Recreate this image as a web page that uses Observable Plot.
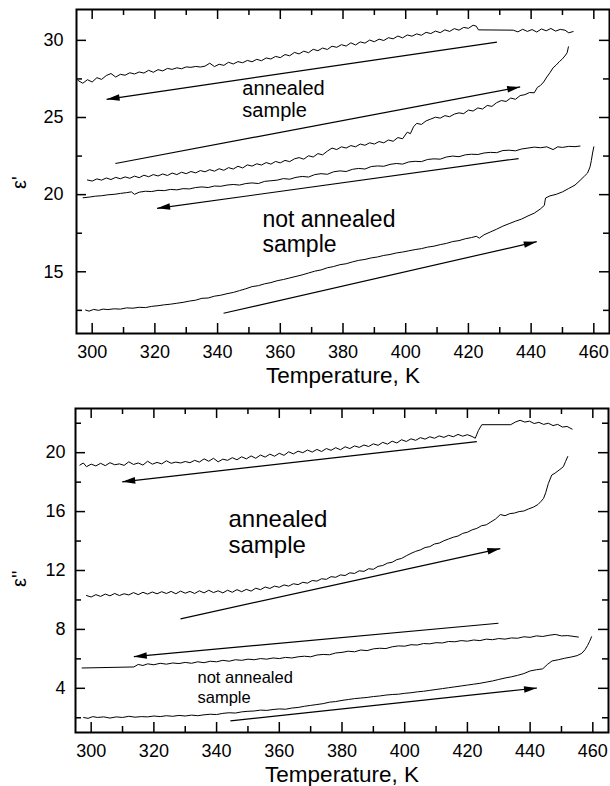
<!DOCTYPE html>
<html><head><meta charset="utf-8">
<script src="https://cdn.jsdelivr.net/npm/d3@7"></script>
<script src="https://cdn.jsdelivr.net/npm/@observablehq/plot@0.6"></script>
<style>body{margin:0;background:#fff}#chart svg{display:block}</style>
</head><body><div id="chart"></div>
<script>
// ---------- tick values ----------
const xTicksMajor = [300, 320, 340, 360, 380, 400, 420, 440, 460];
const xTicksMinor = [310, 330, 350, 370, 390, 410, 430, 450];
const epsPrimeMajor = [15, 20, 25, 30];
const epsPrimeMinor = [12.5, 17.5, 22.5, 27.5];
const epsDoubleMajor = [4, 8, 12, 16, 20];
const epsDoubleMinor = [2, 6, 10, 14, 18, 22];

// ---------- ε' panel: curves [T (K), ε'] ----------
const epsPrimeAnnealedCooling = [[295.5,27.40],[297,27.22],[298.5,27.45],[300,27.30],[301.5,27.58],[303,27.47],[304.5,27.72],[306,27.85],[307.5,27.62],[309,27.80],[310.5,27.74],[312,27.90],[313.5,27.82],[315,27.95],[316.5,27.88],[318,28.06],[319.5,27.93],[321,28.10],[322.5,28.02],[324,28.18],[325.5,28.12],[327,28.22],[328.5,28.16],[330,28.28],[331.5,28.25],[333,28.31],[334.5,28.27],[336,28.33],[337.5,28.52],[339,28.30],[340.5,28.45],[342,28.38],[343.5,28.58],[345,28.47],[346.5,28.62],[348,28.55],[349.5,28.70],[351,28.61],[352.5,28.77],[354,28.68],[355.5,28.86],[357,28.79],[358.5,28.96],[360,28.88],[361.5,29.08],[363,29.00],[364.5,29.22],[366,29.12],[367.5,29.30],[369,29.20],[370.5,29.42],[372,29.33],[373.5,29.50],[375,29.41],[376.5,29.62],[378,29.55],[379.5,29.72],[381,29.63],[382.5,29.84],[384,29.70],[385.5,29.90],[387,29.82],[388.5,30.02],[390,29.91],[391.5,30.08],[393,29.99],[394.5,30.17],[396,30.10],[397.5,30.28],[399,30.16],[400.5,30.35],[402,30.27],[403.5,30.42],[405,30.33],[406.5,30.52],[408,30.44],[409.5,30.60],[411,30.50],[412.5,30.68],[414,30.58],[415.5,30.76],[417,30.66],[418.5,30.84],[420,30.78],[421.5,30.98],[422.5,30.92],[423.2,30.68],[434.3,30.66],[435.8,30.55],[437.3,30.72],[438.8,30.58],[440.3,30.70],[441.8,30.54],[443.3,30.74],[444.8,30.62],[446.3,30.77],[447.8,30.60],[449.3,30.71],[450.8,30.66],[452,30.49],[453.4,30.57]];
const epsPrimeAnnealedHeating = [[298.5,20.95],[300,20.88],[301.5,21.02],[303,20.94],[304.5,21.08],[306,20.98],[307.5,21.12],[309,21.03],[310.5,21.15],[312,21.06],[313.5,21.20],[315,21.10],[316.5,21.26],[318,21.16],[319.5,21.30],[321,21.21],[322.5,21.34],[324,21.24],[325.5,21.40],[327,21.30],[328.5,21.45],[330,21.36],[331.5,21.50],[333,21.41],[334.5,21.56],[336,21.48],[337.5,21.62],[339,21.52],[340.5,21.68],[342,21.58],[343.5,21.75],[345,21.66],[346.5,21.84],[348,21.73],[349.5,21.93],[351,21.85],[352.5,22.00],[354,21.92],[355.5,22.08],[357,21.98],[358.5,22.15],[360,22.06],[361.5,22.22],[363,22.14],[364.5,22.32],[366,22.40],[367.5,22.30],[369,22.52],[370.5,22.44],[372,22.66],[373.5,22.58],[375,22.82],[376.5,23.02],[378,22.92],[379.5,23.10],[381,23.02],[382.5,23.18],[384,23.10],[385.5,23.28],[387,23.20],[388.5,23.36],[390,23.28],[391.5,23.44],[393,23.36],[394.5,23.54],[396,23.46],[397.5,23.70],[399,23.62],[400.5,24.05],[401.5,23.95],[402.5,24.40],[403.5,24.62],[405,24.55],[406.5,24.78],[408,24.90],[409.5,25.02],[411,24.96],[412.5,25.12],[414,25.05],[415.5,25.22],[417,25.30],[418.5,25.25],[420,25.48],[421.5,25.42],[423,25.62],[424.5,25.55],[426,25.78],[427.5,25.72],[429,25.96],[430.5,26.10],[432,26.04],[433.5,26.26],[435,26.18],[436.5,26.42],[438,26.48],[439.5,26.62],[441,26.60],[442,26.95],[443,27.08],[444,27.30],[445,27.62],[446,27.90],[447,28.22],[448,28.40],[449,28.62],[450,28.80],[451,29.05],[451.5,29.20],[451.9,29.58]];
const epsPrimeNotAnnealedCooling = [[297.1,19.80],[299,19.84],[301,19.90],[303,19.93],[305,19.99],[307,20.02],[309,20.08],[311,20.13],[312.5,20.18],[313.5,20.02],[315,20.16],[317,20.22],[319,20.20],[321,20.28],[323,20.26],[325,20.34],[327,20.31],[329,20.39],[331,20.37],[333,20.46],[335,20.50],[337,20.46],[339,20.56],[341,20.54],[343,20.62],[345,20.66],[347,20.62],[349,20.72],[351,20.76],[353,20.72],[355,20.86],[357,20.90],[359,20.94],[361,21.04],[363,21.00],[365,21.12],[367,21.18],[369,21.14],[371,21.30],[373,21.36],[375,21.32],[377,21.48],[379,21.54],[381,21.50],[383,21.64],[385,21.70],[387,21.66],[389,21.82],[391,21.86],[393,21.84],[395,21.96],[397,22.02],[399,21.98],[401,22.12],[403,22.16],[405,22.14],[407,22.28],[409,22.32],[411,22.30],[413,22.44],[415,22.50],[417,22.46],[419,22.58],[421,22.62],[423,22.60],[425,22.70],[427,22.74],[429,22.72],[431,22.86],[433,22.88],[435,22.84],[437,22.96],[439,23.02],[441,23.08],[443,23.04],[445,23.10],[447,22.92],[448.5,23.10],[450,23.06],[452,23.13],[454,23.11],[455.6,23.15]];
const epsPrimeNotAnnealedHeating = [[297.9,12.52],[299,12.45],[300.5,12.56],[302,12.50],[303.5,12.58],[305,12.55],[307,12.60],[309,12.58],[311,12.66],[313,12.64],[315,12.70],[317,12.68],[319,12.76],[321,12.80],[323,12.86],[325,12.90],[327,12.96],[329,13.02],[331,13.10],[333,13.16],[335,13.28],[337,13.30],[339,13.42],[341,13.48],[343,13.58],[345,13.66],[347,13.78],[349,13.90],[351,14.04],[353,14.10],[355,14.22],[357,14.30],[359,14.42],[361,14.50],[363,14.60],[365,14.70],[367,14.80],[369,14.92],[371,15.04],[373,15.12],[375,15.26],[377,15.34],[379,15.46],[381,15.52],[383,15.64],[385,15.74],[387,15.80],[389,15.90],[391,15.96],[393,16.06],[395,16.12],[397,16.22],[399,16.28],[401,16.36],[403,16.44],[405,16.50],[407,16.60],[409,16.66],[411,16.76],[413,16.84],[415,16.96],[417,17.02],[419,17.14],[421,17.22],[422.5,17.30],[423.5,17.18],[425,17.40],[427,17.58],[429,17.76],[431,17.96],[433,18.12],[435,18.28],[437,18.42],[439,18.62],[441,18.80],[443,19.08],[444.2,19.30],[444.6,19.78],[446,19.92],[448,20.02],[450,20.18],[452,20.40],[454,20.62],[455.6,20.92],[457,21.20],[458,21.40],[458.8,21.80],[459.2,22.20],[459.6,22.70],[460,23.10]];

// ---------- ε'' panel: curves [T (K), ε''] ----------
const epsDoubleAnnealedCooling = [[296.4,19.16],[297.5,19.30],[298.5,19.05],[300,19.22],[301.5,19.10],[303,19.28],[304.5,19.12],[306,19.32],[307.5,19.18],[309,19.24],[310.5,19.14],[312,19.38],[313.5,19.20],[315,19.30],[316.5,19.16],[318,19.42],[319.5,19.22],[321,19.34],[322.5,19.24],[324,19.45],[325.5,19.28],[327,19.36],[328.5,19.30],[330,19.40],[331.5,19.32],[333,19.48],[334.5,19.36],[336,19.58],[337.5,19.42],[339,19.62],[340.5,19.38],[342,19.56],[343.5,19.48],[345,19.66],[346.5,19.52],[348,19.72],[349.5,19.58],[351,19.78],[352.5,19.62],[354,19.84],[355.5,19.70],[357,19.90],[358.5,19.76],[360,19.96],[361.5,19.82],[363,20.06],[364.5,19.92],[366,20.10],[367.5,20.00],[369,20.18],[370.5,20.04],[372,20.22],[373.5,20.08],[375,20.28],[376.5,20.16],[378,20.34],[379.5,20.20],[381,20.40],[382.5,20.28],[384,20.46],[385.5,20.36],[387,20.52],[388.5,20.42],[390,20.60],[391.5,20.50],[393,20.70],[394.5,20.58],[396,20.78],[397.5,20.66],[399,20.88],[400.5,20.76],[402,20.94],[403.5,20.84],[405,21.02],[406.5,20.92],[408,21.08],[409.5,20.98],[411,21.14],[412.5,21.04],[414,21.18],[415.5,21.08],[417,21.24],[418.5,21.12],[420,21.22],[421.5,21.10],[422.5,20.98],[423.5,21.50],[424.6,21.90],[433.8,21.90],[435.3,22.08],[436.8,22.20],[438.3,22.08],[439.8,22.14],[441.3,21.98],[442.8,22.06],[444.3,21.92],[445.8,22.00],[447.3,21.84],[448.8,21.92],[450.3,21.74],[451.8,21.78],[453.4,21.60]];
const epsDoubleAnnealedHeating = [[298.5,10.30],[300,10.20],[301.5,10.36],[303,10.24],[304.5,10.40],[306,10.28],[307.5,10.44],[309,10.30],[310.5,10.42],[312,10.34],[313.5,10.50],[315,10.36],[316.5,10.52],[318,10.40],[319.5,10.54],[321,10.42],[322.5,10.56],[324,10.44],[325.5,10.58],[327,10.42],[328.5,10.60],[330,10.46],[331.5,10.58],[333,10.44],[334.5,10.62],[336,10.48],[337.5,10.66],[339,10.50],[340.5,10.62],[342,10.48],[343.5,10.66],[345,10.52],[346.5,10.70],[348,10.56],[349.5,10.72],[351,10.60],[352.5,10.80],[354,10.70],[355.5,10.88],[357,10.78],[358.5,10.94],[360,10.86],[361.5,11.02],[363,10.94],[364.5,11.10],[366,11.04],[367.5,11.20],[369,11.14],[370.5,11.32],[372,11.28],[373.5,11.44],[375,11.40],[376.5,11.58],[378,11.54],[379.5,11.70],[381,11.66],[382.5,11.84],[384,11.80],[385.5,11.98],[387,11.94],[388.5,12.12],[390,12.08],[391.5,12.28],[393,12.34],[394.5,12.50],[396,12.56],[397.5,12.74],[399,12.82],[400.5,13.00],[402,13.16],[403.5,13.30],[405,13.40],[406.5,13.56],[408,13.62],[409.5,13.80],[411,13.86],[412.5,14.02],[414,14.14],[415.5,14.26],[417,14.34],[418.5,14.52],[420,14.60],[421.5,14.76],[423,14.86],[424.5,15.04],[426,15.10],[427.5,15.30],[429,15.50],[430.5,15.80],[432,15.72],[433.5,15.86],[435,15.90],[436.5,16.00],[438,16.04],[439.5,16.18],[441,16.30],[442.5,16.48],[443.5,16.70],[444.3,16.90],[445,17.30],[445.8,17.90],[446.9,18.48],[448,18.62],[449.5,18.86],[450.6,19.05],[451.3,19.40],[452,19.74]];
const epsDoubleNotAnnealedCooling = [[297.1,5.38],[313.6,5.45],[315,5.62],[316.5,5.55],[318,5.66],[320,5.60],[322,5.70],[324,5.64],[326,5.72],[328,5.68],[330,5.76],[332,5.70],[334,5.80],[336,5.74],[338,5.84],[340,5.80],[342,5.90],[344,5.84],[346,5.94],[348,5.90],[350,5.98],[352,5.94],[354,6.02],[356,5.98],[358,6.06],[360,6.02],[362,6.10],[364,6.06],[366,6.14],[368,6.18],[370,6.14],[372,6.26],[374,6.30],[376,6.28],[378,6.40],[380,6.44],[382,6.52],[384,6.48],[386,6.60],[388,6.56],[390,6.68],[392,6.72],[394,6.70],[396,6.82],[398,6.88],[400,6.86],[402,6.96],[404,6.94],[406,7.04],[408,7.02],[410,7.10],[412,7.08],[414,7.18],[416,7.16],[418,7.24],[420,7.20],[422,7.28],[424,7.24],[426,7.34],[428,7.30],[430,7.38],[432,7.34],[434,7.42],[436,7.40],[438,7.50],[440,7.46],[442,7.56],[444,7.52],[446,7.60],[448,7.66],[450,7.56],[452,7.58],[454,7.52],[455.4,7.48]];
const epsDoubleNotAnnealedHeating = [[297.6,2.02],[299,1.96],[300.5,2.08],[302,2.02],[304,2.06],[306,1.98],[308,2.06],[310,2.02],[312,2.10],[314,2.04],[316,2.08],[318,2.06],[320,2.12],[322,2.08],[324,2.14],[326,2.10],[328,2.16],[330,2.12],[332,2.18],[334,2.14],[336,2.20],[338,2.24],[340,2.22],[342,2.30],[344,2.34],[346,2.32],[348,2.40],[350,2.44],[352,2.46],[354,2.52],[356,2.50],[358,2.56],[360,2.60],[362,2.58],[364,2.66],[366,2.70],[368,2.78],[370,2.84],[372,2.90],[374,2.96],[376,3.06],[378,3.10],[380,3.18],[382,3.24],[384,3.30],[386,3.34],[388,3.38],[390,3.44],[392,3.48],[394,3.54],[396,3.58],[398,3.60],[400,3.66],[402,3.70],[404,3.76],[406,3.80],[408,3.86],[410,3.92],[412,3.98],[414,4.04],[416,4.10],[418,4.16],[420,4.22],[422,4.28],[424,4.34],[426,4.42],[428,4.50],[430,4.60],[432,4.70],[434,4.78],[436,4.88],[438,5.00],[440,5.18],[442,5.26],[444,5.32],[445.5,5.62],[447,5.86],[449,5.94],[451,6.04],[453,6.12],[455,6.22],[456.5,6.38],[457.5,6.62],[458.3,6.90],[459,7.20],[459.6,7.50]];

// ---------- arrows (data units; x2,y2 = arrow tip) ----------
const epsPrimeArrows = [
  {x1: 429.1, y1: 29.89, x2: 304.6, y2: 26.18},
  {x1: 307.4, y1: 22.02, x2: 436.5, y2: 26.98},
  {x1: 436.0, y1: 22.34, x2: 320.7, y2: 19.11},
  {x1: 341.9, y1: 12.31, x2: 441.8, y2: 16.95}
];
const epsDoubleArrows = [
  {x1: 423.0, y1: 20.75, x2: 309.9, y2: 18.02},
  {x1: 328.5, y1: 8.72, x2: 430.5, y2: 13.49},
  {x1: 429.9, y1: 8.42, x2: 313.6, y2: 6.15},
  {x1: 344.4, y1: 1.79, x2: 442.2, y2: 4.02}
];

// ---------- annotation labels (data-unit anchor of last line's baseline) ----------
const epsPrimeLabels = [
  {text: "annealed\nsample", x: 347.9, y: 25.02, size: 20, lh: 1.1},
  {text: "not annealed\nsample", x: 354.3, y: 16.28, size: 23, lh: 1.09}
];
const epsDoubleLabels = [
  {text: "annealed\nsample", x: 343.8, y: 13.19, size: 24, lh: 1.08},
  {text: "not annealed\nsample", x: 333.9, y: 2.97, size: 16.5, lh: 1.27}
];

const xTitle = "Temperature, K";

const arrowHead = {
  draw(ctx) { ctx.moveTo(0, 0); ctx.lineTo(3.3, 13); ctx.lineTo(-3.3, 13); ctx.closePath(); }
};

function panel(cfg) {
  const width = 610;
  const {height, marginTop, marginBottom, marginLeft, marginRight, xDomain, yDomain} = cfg;
  const W = width - marginLeft - marginRight;
  const H = height - marginTop - marginBottom;
  const sx = d3.scaleLinear(xDomain, [marginLeft, width - marginRight]);
  const sy = d3.scaleLinear(yDomain, [height - marginBottom, marginTop]);
  const heads = cfg.arrows.map(a => {
    const dx = sx(a.x2) - sx(a.x1), dy = sy(a.y2) - sy(a.y1);
    return {...a, angle: Math.atan2(dx, -dy) * 180 / Math.PI};
  });
  const rows = cfg.curves.flatMap((pts, i) => pts.map(([T, v]) => ({T, v, id: i})));
  const tk = {stroke: "black", strokeWidth: 1.5};
  const id = d => d;
  return Plot.plot({
    width, height, marginTop, marginBottom, marginLeft, marginRight,
    x: {domain: xDomain},
    y: {domain: yDomain},
    style: {fontFamily: "'Liberation Sans', Arial, sans-serif", fontSize: "18px", color: "black", background: "white"},
    marks: [
      Plot.line(rows, {x: "T", y: "v", z: "id", stroke: "black", strokeWidth: 1}),
      Plot.link(cfg.arrows, {x1: "x1", y1: "y1", x2: "x2", y2: "y2", stroke: "black", strokeWidth: 1.2}),
      Plot.dot(heads, {x: "x2", y: "y2", symbol: arrowHead, rotate: "angle", fill: "black", stroke: "none", r: 5}),
      ...cfg.labels.map(l => Plot.text([l], {x: "x", y: "y", text: "text", textAnchor: "start", lineAnchor: "bottom", fontSize: l.size, lineHeight: l.lh, fill: "black"})),
      Plot.tickX(xTicksMajor, {x: id, insetTop: H - 10, ...tk}),
      Plot.tickX(xTicksMajor, {x: id, insetBottom: H - 10, ...tk}),
      Plot.tickX(xTicksMinor, {x: id, insetTop: H - 6, ...tk}),
      Plot.tickX(xTicksMinor, {x: id, insetBottom: H - 6, ...tk}),
      Plot.tickY(cfg.yMajor, {y: id, insetRight: W - 10, ...tk}),
      Plot.tickY(cfg.yMajor, {y: id, insetLeft: W - 10, ...tk}),
      Plot.tickY(cfg.yMinor, {y: id, insetRight: W - 6, ...tk}),
      Plot.tickY(cfg.yMinor, {y: id, insetLeft: W - 6, ...tk}),
      Plot.axisX({ticks: xTicksMajor, tickSize: 0, tickPadding: 12, fontSize: 18, label: null}),
      Plot.axisY({ticks: cfg.yMajor, tickSize: 0, tickPadding: cfg.yPad, fontSize: 18, label: null}),
      Plot.frame({stroke: "black", strokeWidth: 2}),
      Plot.text([xTitle], {frameAnchor: "bottom", text: id, dy: 49, fontSize: 22.5, lineAnchor: "bottom", textAnchor: "middle"}),
      Plot.text([cfg.yTitle], {frameAnchor: "left", text: id, dx: cfg.yTitleDx, dy: cfg.yTitleDy, rotate: -90, fontSize: 20})
    ]
  });
}

const chart = document.getElementById("chart");
chart.append(panel({
  height: 395, marginTop: 9, marginBottom: 62, marginLeft: 76, marginRight: 1,
  xDomain: [295, 465], yDomain: [11, 32],
  yMajor: epsPrimeMajor, yMinor: epsPrimeMinor, yPad: 13,
  curves: [epsPrimeAnnealedCooling, epsPrimeAnnealedHeating, epsPrimeNotAnnealedCooling, epsPrimeNotAnnealedHeating],
  arrows: epsPrimeArrows, labels: epsPrimeLabels,
  yTitle: "ε'", yTitleDx: -57, yTitleDy: 17.5
}));
chart.append(panel({
  height: 391, marginTop: 13, marginBottom: 54, marginLeft: 75, marginRight: 2,
  xDomain: [295, 465], yDomain: [1, 23],
  yMajor: epsDoubleMajor, yMinor: epsDoubleMinor, yPad: 10,
  curves: [epsDoubleAnnealedCooling, epsDoubleAnnealedHeating, epsDoubleNotAnnealedCooling, epsDoubleNotAnnealedHeating],
  arrows: epsDoubleArrows, labels: epsDoubleLabels,
  yTitle: "ε''", yTitleDx: -56.4, yTitleDy: 16.5
}));
</script>
</body></html>
